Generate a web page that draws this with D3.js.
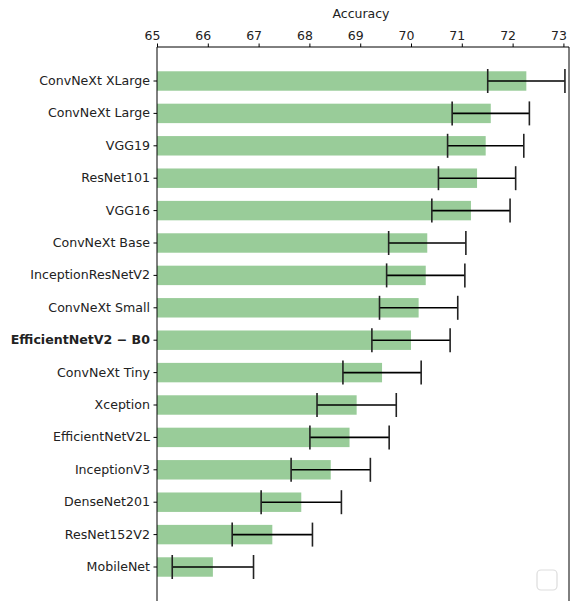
<!DOCTYPE html>
<html>
<head>
<meta charset="utf-8">
<script src="https://cdn.jsdelivr.net/npm/d3@7"></script>
<style>
  body { margin: 0; background: #fff; }
  svg text { font-family: "DejaVu Sans", sans-serif; fill: #222; }
</style>
</head>
<body>
<div id="chart"></div>
<script>
// model names, top to bottom
var models = ["ConvNeXt XLarge", "ConvNeXt Large", "VGG19", "ResNet101", "VGG16",
    "ConvNeXt Base", "InceptionResNetV2", "ConvNeXt Small", "EfficientNetV2 \u2212 B0",
    "ConvNeXt Tiny", "Xception", "EfficientNetV2L", "InceptionV3", "DenseNet201",
    "ResNet152V2", "MobileNet"];
// mean accuracy
var accuracy = [72.27, 71.57, 71.47, 71.30, 71.18, 70.32, 70.29, 70.15, 70.00,
    69.43, 68.93, 68.79, 68.42, 67.84, 67.27, 66.10];
// std (error bar half width)
var spread = [0.76, 0.76, 0.75, 0.76, 0.77, 0.76, 0.77, 0.77, 0.77,
    0.77, 0.78, 0.78, 0.78, 0.79, 0.79, 0.80];
var xTicks = [65, 66, 67, 68, 69, 70, 71, 72, 73];
var highlight = "EfficientNetV2 \u2212 B0";

var W = 570, H = 601;
var plotLeft = 157, plotRight = 569, plotTop = 47;

var svg = d3.select("#chart").append("svg")
    .attr("width", W)
    .attr("height", H);

var x = d3.scaleLinear()
    .domain([65, 73.11])
    .range([plotLeft, plotRight]);

var y = d3.scaleBand()
    .domain(models)
    .range([64.8, 583.2])
    .paddingInner(0.4)
    .paddingOuter(0.2);

var data = models.map(function (m, i) {
    return { name: m, acc: accuracy[i], sd: spread[i] };
});

// bars
svg.selectAll(".bar")
    .data(data)
    .enter().append("rect")
    .attr("class", "bar")
    .attr("x", x(65))
    .attr("y", function (d) { return y(d.name); })
    .attr("width", function (d) { return x(d.acc) - x(65); })
    .attr("height", y.bandwidth())
    .style("fill", "#99cc99");

// error bars
var err = svg.selectAll(".err")
    .data(data)
    .enter().append("g")
    .attr("class", "err")
    .attr("transform", function (d) { return "translate(0," + (y(d.name) + y.bandwidth() / 2) + ")"; });

err.append("line")
    .attr("x1", function (d) { return x(d.acc - d.sd); })
    .attr("x2", function (d) { return x(d.acc + d.sd); })
    .attr("stroke", "#000")
    .attr("stroke-width", 1.6);

err.selectAll(".cap")
    .data(function (d) { return [d.acc - d.sd, d.acc + d.sd]; })
    .enter().append("line")
    .attr("class", "cap")
    .attr("x1", function (v) { return x(v); })
    .attr("x2", function (v) { return x(v); })
    .attr("y1", -12)
    .attr("y2", 12)
    .attr("stroke", "#222")
    .attr("stroke-width", 1.6);

// top axis (labels sit a bit left of their ticks, as in the original)
var xAxis = svg.append("g")
    .attr("transform", "translate(0," + plotTop + ")")
    .call(d3.axisTop(x).tickValues(xTicks).tickFormat(d3.format("d")).tickSize(3.5).tickPadding(3.5));
xAxis.select(".domain").remove();
xAxis.selectAll("text")
    .attr("dx", -5)
    .style("font-size", "12.5px")
    .style("fill", "#222");

svg.append("text")
    .attr("x", (plotLeft + plotRight) / 2 - 2)
    .attr("y", 18)
    .attr("text-anchor", "middle")
    .style("font-size", "12.5px")
    .text("Accuracy");

// left axis
var yAxis = svg.append("g")
    .attr("transform", "translate(" + plotLeft + ",0)")
    .call(d3.axisLeft(y).tickSize(3.5).tickPadding(3.5));
yAxis.select(".domain").remove();
yAxis.selectAll("text")
    .style("font-size", "12.6px")
    .style("fill", "#222")
    .style("font-weight", function (d) { return d == highlight ? "bold" : "normal"; });

// spines
svg.append("path")
    .attr("d", "M" + plotLeft + "," + H + "V" + plotTop + "H" + plotRight + "V" + H)
    .attr("fill", "none")
    .attr("stroke", "#000")
    .attr("stroke-width", 1);

// faint box in the corner
svg.append("rect")
    .attr("x", 537).attr("y", 570)
    .attr("width", 20).attr("height", 20)
    .attr("rx", 4)
    .attr("fill", "none")
    .attr("stroke", "#ddd")
    .attr("stroke-width", 1.2);
</script>
</body>
</html>
